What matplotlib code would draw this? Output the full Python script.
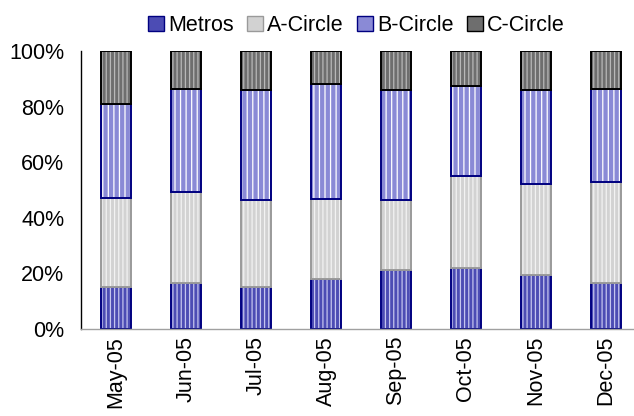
import numpy as np
import matplotlib
matplotlib.use("Agg")
import matplotlib.pyplot as plt
from matplotlib.patches import Patch

plt.rcParams['font.family'] = ['Liberation Sans', 'DejaVu Sans']
plt.rcParams['hatch.linewidth'] = 0.9

months = ["May-05", "Jun-05", "Jul-05", "Aug-05", "Sep-05", "Oct-05", "Nov-05", "Dec-05"]
series_names = ["Metros", "A-Circle", "B-Circle", "C-Circle"]
metros = [15.2, 16.5, 15.2, 18.1, 21.1, 21.8, 19.5, 16.7]
a_circle = [31.8, 32.7, 31.1, 28.8, 25.2, 33.1, 32.5, 36.1]
b_circle = [34.0, 37.2, 39.6, 41.1, 39.6, 32.4, 33.9, 33.6]
c_circle = [19.0, 13.6, 14.1, 12.0, 14.1, 12.7, 14.1, 13.6]

# face colour, hatch colour, hatch pattern, outline colour
styles = [
    ("#4c4cb4", "#c4c4ee", "||||", "#000080"),
    ("#d2d2d2", "#f2f2f2", "||||", "#9a9a9a"),
    ("#8a8ad6", "#ffffff", "|||", "#000080"),
    ("#6e6e6e", "#b8b8b8", "||||", "#000000"),
]

fig = plt.figure(figsize=(6.34, 4.16), dpi=100)
ax = fig.add_axes([81 / 634, 87 / 416, 560 / 634, 278 / 416])

x = np.arange(len(months))
width = 0.42
bottom = np.zeros(len(months))
for vals, (fc, hc, hatch, ec) in zip([metros, a_circle, b_circle, c_circle], styles):
    vals = np.array(vals)
    ax.bar(x, vals, width, bottom=bottom, color=fc, edgecolor=hc, hatch=hatch, linewidth=0)
    ax.bar(x, vals, width, bottom=bottom, fill=False, edgecolor=ec, linewidth=1.4)
    bottom += vals

ax.set_xlim(-0.5, len(months) - 0.5)
ax.set_ylim(0, 100)
ax.set_yticks([0, 20, 40, 60, 80, 100])
ax.set_yticklabels([f"{v}%" for v in [0, 20, 40, 60, 80, 100]], fontsize=15.5)
ax.set_xticks(x)
ax.set_xticklabels(months, rotation=90, fontsize=15.5)
ax.tick_params(axis='both', length=0)
ax.tick_params(axis='y', pad=12)
ax.tick_params(axis='x', pad=5)
for s in ["top", "right"]:
    ax.spines[s].set_visible(False)
ax.spines["left"].set_color("black")
ax.spines["left"].set_linewidth(1.0)
ax.spines["bottom"].set_color("#a0a0a0")
ax.spines["bottom"].set_linewidth(1.0)

handles = [Patch(facecolor=fc, edgecolor=ec, linewidth=1.0) for fc, hc, hatch, ec in styles]
fig.legend(handles, series_names, loc="upper center", bbox_to_anchor=(0.562, 1.0),
           ncol=4, frameon=False, fontsize=15.5, handlelength=0.75, handleheight=0.75,
           handletextpad=0.2, columnspacing=0.6, borderaxespad=0.3)

fig.savefig("out.png", dpi=100)
